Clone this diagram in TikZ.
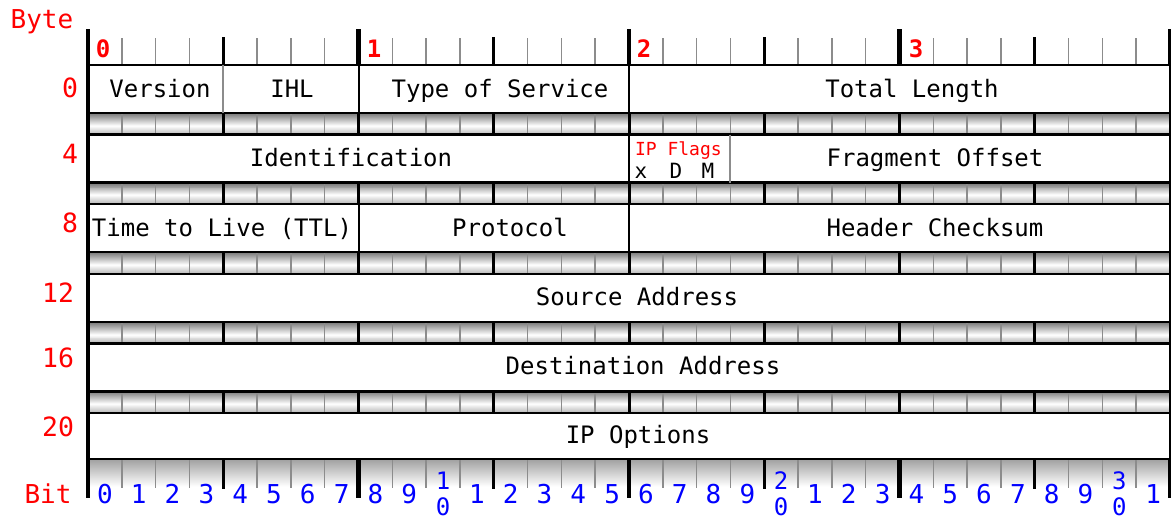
\documentclass[tikz,border=0pt]{standalone}
\usepackage{fontspec}
\setmainfont{DejaVu Sans Mono}
\begin{document}
\begin{tikzpicture}[x=1pt,y=-1pt,
  every node/.style={inner sep=0pt,outer sep=0pt},
  txt/.style={font=\fontsize{24}{28}\selectfont,anchor=base},
  rowlbl/.style={font=\fontsize{26.5}{30}\selectfont,text=red,anchor=base east},
  bytelbl/.style={font=\fontsize{24}{28}\selectfont\bfseries,text=red,anchor=base},
  bitlbl/.style={font=\fontsize{26}{30}\selectfont,text=blue,anchor=base},
  stacklbl/.style={font=\fontsize{24}{28}\selectfont,text=blue,anchor=base},
  bytetick/.style={line width=4.5pt,black},
  nibtick/.style={line width=3pt,black},
  mintick/.style={line width=1.5pt,black!45},
  hline/.style={line width=2.5pt,black},
  sepblack/.style={line width=2pt,black},
  sepgray/.style={line width=2pt,black!45}]
\def\bw{33.8125}
\useasboundingbox (0,0) rectangle (1171,522);
\fill[white] (0,0) rectangle (1171,522);

% ---- strips between rows (hand-made vertical gradient: dark top, white, light bottom) ----
\foreach \k in {0,...,4} {
  \pgfmathsetmacro\ya{65+69.6*\k+48}
  \pgfmathsetmacro\yb{65+69.6*(\k+1)}
  \foreach \j in {0,...,21} {
    \pgfmathsetmacro\t{(\j+0.5)/22}
    \pgfmathsetmacro\p{\t<0.6 ? 55*(1-\t/0.6) : 28*(\t-0.6)/0.4}
    \pgfmathsetmacro\yc{\ya+\j*(\yb-\ya)/22}
    \pgfmathsetmacro\yd{\ya+(\j+1)*(\yb-\ya)/22+0.3}
    \fill[black!\p] (88,\yc) rectangle (1170,\yd);
  }
  \foreach \i in {1,...,31} {
    \pgfmathsetmacro\x{88+\i*\bw}
    \pgfmathtruncatemacro\mf{mod(\i,4)}
    \ifnum\mf=0
      \draw[nibtick] (\x,\ya) -- (\x,\yb);
    \else
      \draw[mintick] (\x,\ya) -- (\x,\yb);
    \fi
  }
  \draw[hline] (88,\ya) -- (1170,\ya);
  \draw[hline] (88,\yb) -- (1170,\yb);
}

% ---- top ruler ----
\foreach \i in {0,...,32} {
  \pgfmathsetmacro\x{88+\i*\bw}
  \pgfmathtruncatemacro\mf{mod(\i,4)}
  \pgfmathtruncatemacro\me{mod(\i,8)}
  \ifnum\me=0
    \draw[bytetick] (\x,29) -- (\x,65);
  \else\ifnum\mf=0
    \draw[nibtick] (\x,37) -- (\x,65);
  \else
    \draw[mintick] (\x,38) -- (\x,65);
  \fi\fi
}
\draw[hline] (88,65) -- (1170,65);

% ---- bottom ruler (gradient gray under the line fading to white) ----
\foreach \j in {0,...,27} {
  \pgfmathsetmacro\t{(\j+0.5)/28}
  \pgfmathsetmacro\p{38*(1-\t)}
  \pgfmathsetmacro\yc{459+\j}
  \pgfmathsetmacro\yd{460.3+\j}
  \fill[black!\p] (88,\yc) rectangle (1170,\yd);
}
\foreach \i in {0,...,32} {
  \pgfmathsetmacro\x{88+\i*\bw}
  \pgfmathtruncatemacro\mf{mod(\i,4)}
  \pgfmathtruncatemacro\me{mod(\i,8)}
  \ifnum\me=0
    \draw[bytetick] (\x,459) -- (\x,498);
  \else\ifnum\mf=0
    \draw[nibtick] (\x,459) -- (\x,489);
  \else
    \draw[mintick] (\x,459) -- (\x,488);
  \fi\fi
}
\draw[hline] (88,459) -- (1170,459);

% ---- frame sides ----
\draw[bytetick] (88,29) -- (88,498);
\draw[nibtick] (1170,29) -- (1170,498);

% ---- field separators ----
\draw[sepgray]  (223.25,65) -- (223.25,113);
\draw[sepblack] (358.5,65) -- (358.5,113);
\draw[sepblack] (629,65) -- (629,113);
\draw[sepblack] (629,134.6) -- (629,182.6);
\draw[sepgray]  (730.4,134.6) -- (730.4,182.6);
\draw[sepblack] (358.5,204.2) -- (358.5,252.2);
\draw[sepblack] (629,204.2) -- (629,252.2);

% ---- labels ----
\node[font=\fontsize{26}{30}\selectfont,text=red,anchor=base] (byte) at (42,28) {Byte};
\node[font=\fontsize{26}{30}\selectfont,text=red,anchor=base] (bit) at (48,503) {Bit};

\node[rowlbl] (r0)  at (78,97)  {0};
\node[rowlbl] (r4)  at (78,163) {4};
\node[rowlbl] (r8)  at (78,232) {8};
\node[rowlbl] (r12) at (74,302) {12};
\node[rowlbl] (r16) at (74,367) {16};
\node[rowlbl] (r20) at (74,436) {20};

\node[bytelbl] (b0) at (103,57) {0};
\node[bytelbl] (b1) at (374,57) {1};
\node[bytelbl] (b2) at (644,57) {2};
\node[bytelbl] (b3) at (916,57) {3};

\node[txt] (version) at (160,97)  {Version};
\node[txt] (ihl)     at (292,97)  {IHL};
\node[txt] (tos)     at (500,97)  {Type of Service};
\node[txt] (totlen)  at (912,97)  {Total Length};
\node[txt] (ident)   at (351,166) {Identification};
\node[font=\fontsize{18}{20}\selectfont,text=red,anchor=base west] (flags) at (635,155) {IP Flags};
\node[font=\fontsize{21}{24}\selectfont,anchor=base] (fx) at (641,178) {x};
\node[font=\fontsize{21}{24}\selectfont,anchor=base] (fd) at (676,178) {D};
\node[font=\fontsize{21}{24}\selectfont,anchor=base] (fm) at (708,178) {M};
\node[txt] (fragoff) at (935,166) {Fragment Offset};
\node[txt] (ttl)     at (222,236) {Time to Live (TTL)};
\node[txt] (proto)   at (510,236) {Protocol};
\node[txt] (hcs)     at (935,236) {Header Checksum};
\node[txt] (src)     at (637,305) {Source Address};
\node[txt] (dst)     at (643,374) {Destination Address};
\node[txt] (opts)    at (638,443) {IP Options};

% ---- bit numbers ----
\foreach \i in {0,...,31} {
  \pgfmathsetmacro\x{88+(\i+0.5)*\bw}
  \pgfmathtruncatemacro\d{mod(\i,10)}
  \pgfmathtruncatemacro\tt{int(\i/10)}
  \ifnum\d=0
    \ifnum\i=0
      \node[bitlbl] (bit\i) at (\x,503) {\d};
    \else
      \node[stacklbl] (bit\i) at (\x,489) {\tt};
      \node[stacklbl] (bitb\i) at (\x,515) {0};
    \fi
  \else
    \node[bitlbl] (bit\i) at (\x,503) {\d};
  \fi
}
\end{tikzpicture}
\end{document}
